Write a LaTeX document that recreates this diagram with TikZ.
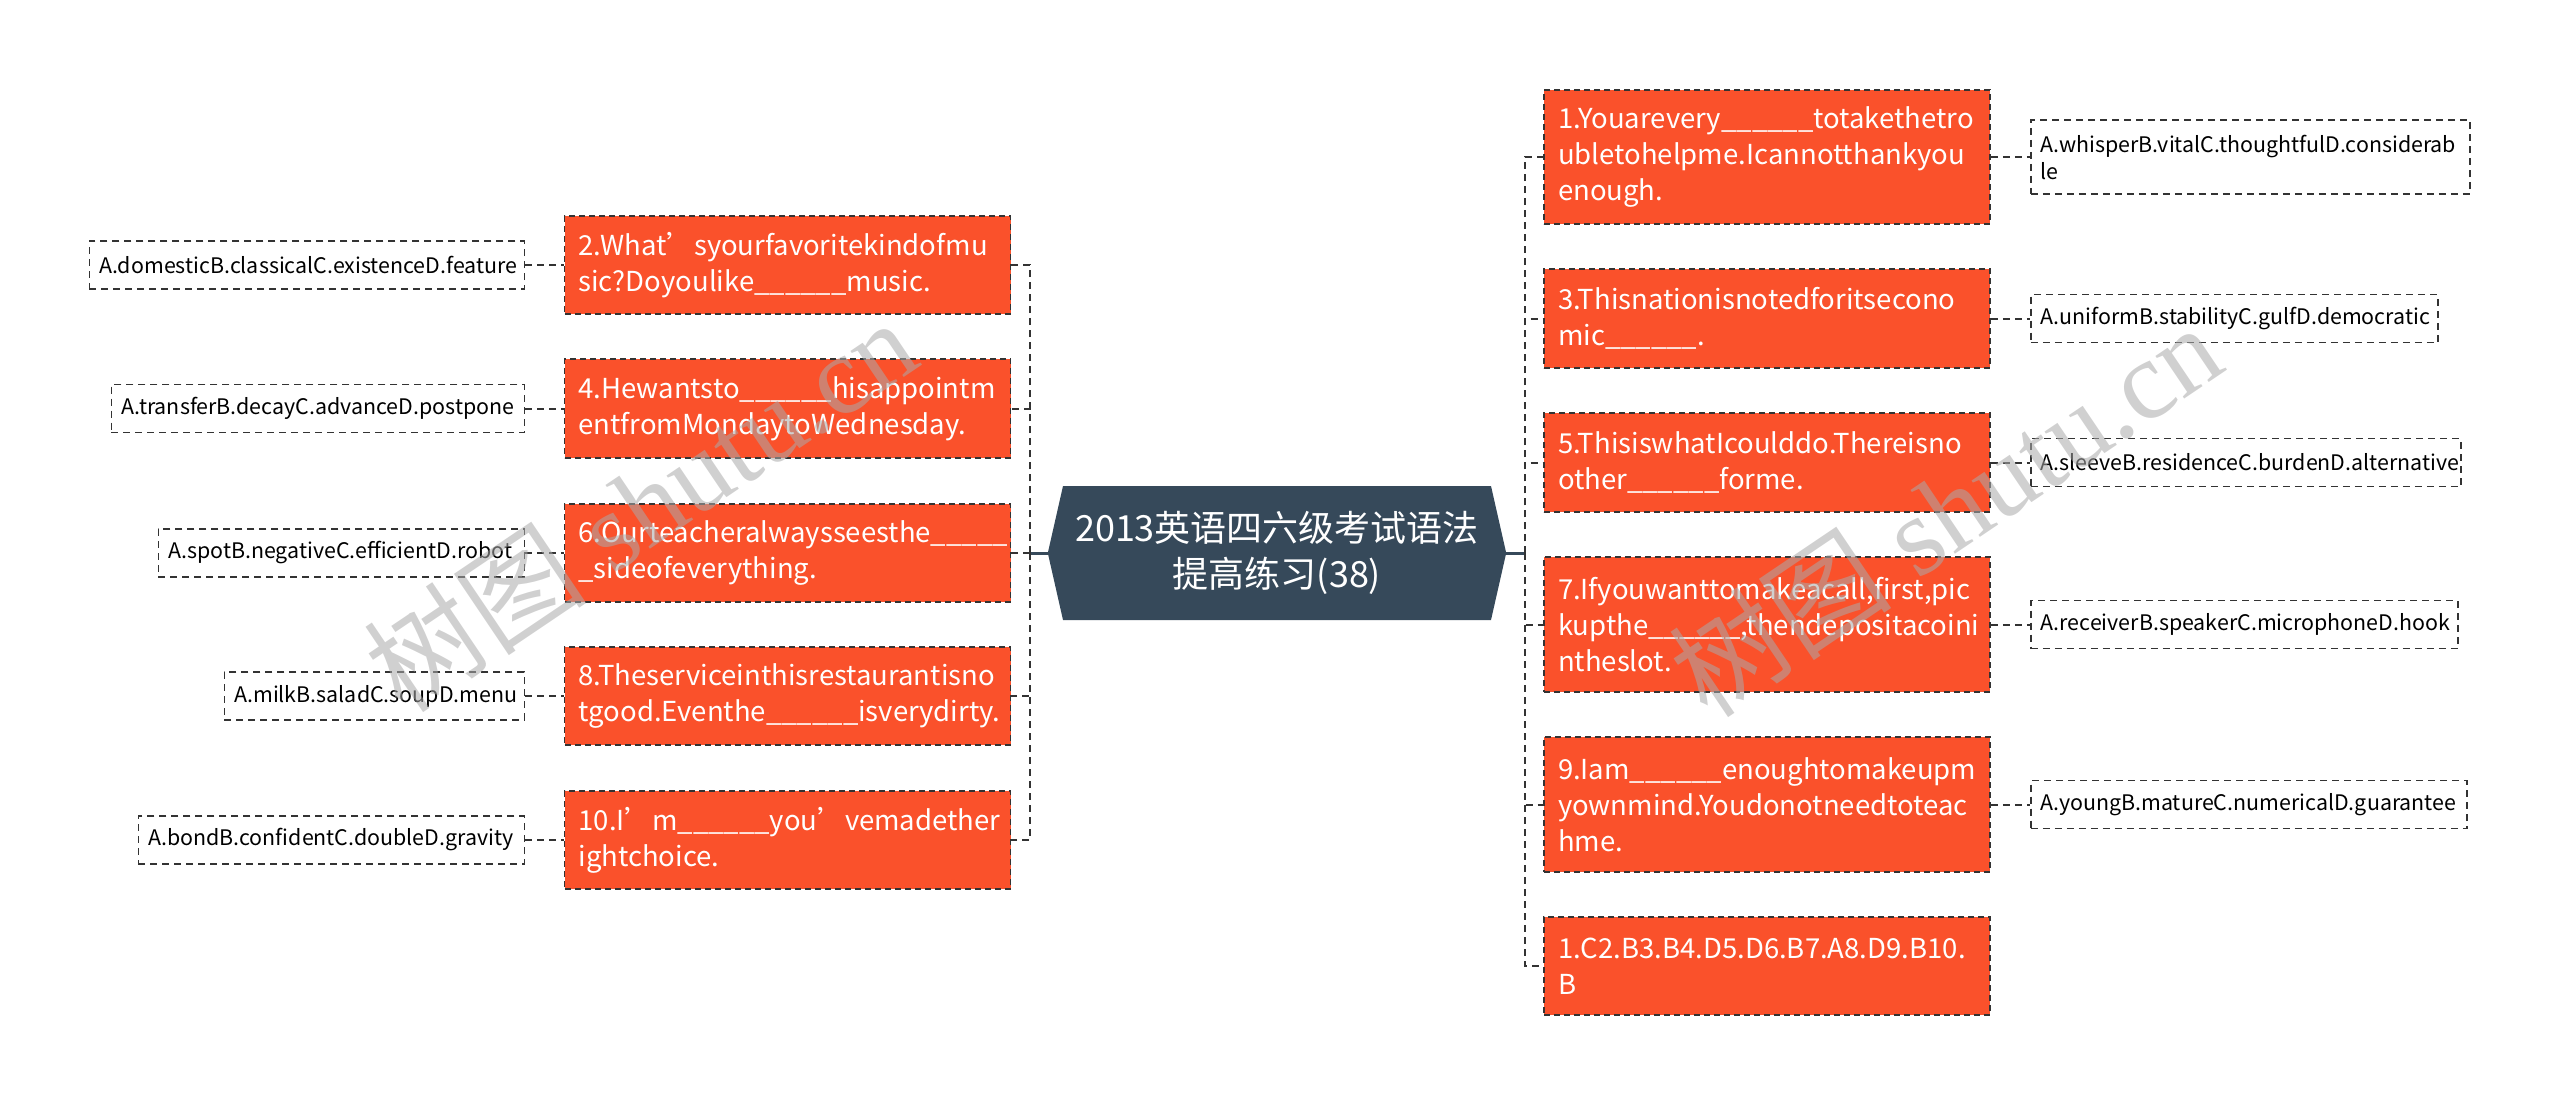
\documentclass[tikz,border=0pt]{standalone}
\usepackage{fontspec}
\setmainfont{Noto Sans CJK SC}
\newfontfamily\cjk{Noto Sans CJK SC}
\newfontfamily\wmserif{Liberation Serif}
\definecolor{qorange}{RGB}{250,81,43}
\definecolor{rootc}{RGB}{54,73,90}
\definecolor{lineg}{RGB}{51,51,51}
\definecolor{wmgray}{RGB}{170,170,170}
\hyphenpenalty=10000
\exhyphenpenalty=10000
\tikzset{
  qbox/.style={rectangle, fill=qorange, draw=lineg, line width=1.5pt, dash pattern=on 6pt off 4pt,
    text=white, font=\fontsize{27.5pt}{36pt}\selectfont, align=left, inner xsep=14pt, inner ysep=0pt,
    text width=418pt, minimum height=#1},
  leaf/.style={rectangle, fill=white, draw=lineg, line width=1.5pt, dash pattern=on 7pt off 5pt,
    text=black, font=\fontsize{21.4pt}{27pt}\selectfont, align=left, inner xsep=10pt, inner ysep=0pt,
    text width=#1, minimum height=48pt},
  dline/.style={draw=lineg, line width=2pt, dash pattern=on 7pt off 5pt},
  rline/.style={draw=rootc, line width=3pt},
  wm/.style={text=wmgray, text opacity=0.55, font=\fontsize{112pt}{112pt}\selectfont, inner sep=0pt}
}
\begin{document}
\begin{tikzpicture}[x=1pt,y=-1pt]
\useasboundingbox (0,0) rectangle (2560,1105);
% root
\node (root) [minimum width=458pt, minimum height=134pt, inner sep=0pt] at (1277,553) {};
\fill[rootc] (root.west) -- (1063,486) -- (1491,486) -- (root.east) -- (1491,620) -- (1063,620) -- cycle;
\node (roottext) [text=white, align=center, font=\fontsize{36pt}{46pt}\selectfont, inner sep=0pt] at (root.center)
  {2013英语四六级考试语法\\提高练习(38)};
\coordinate (rj) at (1525,553);
\coordinate (lj) at (1030,553);
% right questions
\node[qbox=134pt] (r1) at (1767,157) {1.Youarevery\_\_\_\_\_\_totakethetro\\ubletohelpme.Icannotthankyou\\enough.};
\node[qbox=99pt] (r3) at (1767,318.5) {3.Thisnationisnotedforitsecono\\mic\_\_\_\_\_\_.};
\node[qbox=99pt] (r5) at (1767,462.5) {5.ThisiswhatIcoulddo.Thereisno\\other\_\_\_\_\_\_forme.};
\node[qbox=135pt] (r7) at (1767,624.5) {7.Ifyouwanttomakeacall,first,pic\\kupthe\_\_\_\_\_\_,thendepositacoini\\ntheslot.};
\node[qbox=135pt] (r9) at (1767,804.5) {9.Iam\_\_\_\_\_\_enoughtomakeupm\\yownmind.Youdonotneedtoteac\\hme.};
\node[qbox=98pt] (ra) at (1767,966) {1.C2.B3.B4.D5.D6.B7.A8.D9.B10.\\B};
% right leaves
\node[leaf=419pt, minimum height=74pt, anchor=west] (l1) at (2030,157) {A.whisperB.vitalC.thoughtfulD.considerab\\le};
\node[leaf=387pt, anchor=west] (l3) at (2030,318.5) {A.uniformB.stabilityC.gulfD.democratic};
\node[leaf=410pt, anchor=west] (l5) at (2030,462.5) {A.sleeveB.residenceC.burdenD.alternative};
\node[leaf=407pt, anchor=west] (l7) at (2030,624.5) {A.receiverB.speakerC.microphoneD.hook};
\node[leaf=416pt, anchor=west] (l9) at (2030,804.5) {A.youngB.matureC.numericalD.guarantee};
% left questions
\node[qbox=98pt] (q2) at (787.5,265) {2.What’syourfavoritekindofmu\\sic?Doyoulike\_\_\_\_\_\_music.};
\node[qbox=99pt] (q4) at (787.5,408.5) {4.Hewantsto\_\_\_\_\_\_hisappointm\\entfromMondaytoWednesday.};
\node[qbox=98pt] (q6) at (787.5,553) {6.Ourteacheralwaysseesthe\_\_\_\_\_\\\_sideofeverything.};
\node[qbox=98pt] (q8) at (787.5,696) {8.Theserviceinthisrestaurantisno\\tgood.Eventhe\_\_\_\_\_\_isverydirty.};
\node[qbox=98pt] (q10) at (787.5,840) {10.I’m\_\_\_\_\_\_you’vemadether\\ightchoice.};
% left leaves
\node[leaf=415pt, anchor=east] (k2) at (525,265) {A.domesticB.classicalC.existenceD.feature};
\node[leaf=393pt, anchor=east] (k4) at (525,408.5) {A.transferB.decayC.advanceD.postpone};
\node[leaf=346pt, anchor=east] (k6) at (525,553) {A.spotB.negativeC.efficientD.robot};
\node[leaf=280pt, anchor=east] (k8) at (525,696) {A.milkB.saladC.soupD.menu};
\node[leaf=366pt, anchor=east] (k10) at (525,840) {A.bondB.confidentC.doubleD.gravity};
% connectors root to trunks
\draw[rline] (root.east) -- (rj);
\draw[rline] (root.west) -- (lj);
\foreach \n in {r1,r3,r5,r7,r9,ra} { \draw[dline] (rj) |- (\n.west); }
\foreach \n in {q2,q4,q6,q8,q10} { \draw[dline] (lj) |- (\n.east); }
\foreach \a/\b in {r1/l1,r3/l3,r5/l5,r7/l7,r9/l9} { \draw[dline] (\a.east) -- (\b.west); }
\foreach \a/\b in {q2/k2,q4/k4,q6/k6,q8/k8,q10/k10} { \draw[dline] (\b.east) -- (\a.west); }
% watermarks
\node[wm, rotate=34] (wm1) at (640,505) {\cjk 树图\hspace{0.25em}\wmserif shutu.cn};
\node[wm, rotate=34] (wm2) at (1945,510) {\cjk 树图\hspace{0.25em}\wmserif shutu.cn};
\end{tikzpicture}
\end{document}
